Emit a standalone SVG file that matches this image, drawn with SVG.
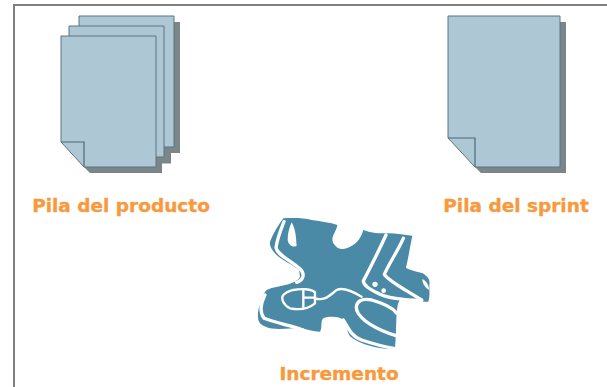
<svg xmlns="http://www.w3.org/2000/svg" width="607" height="387" viewBox="0 0 607 387">
<style>
.sheet{fill:#adc7d4;stroke:#5c7480;stroke-width:1}
.shadow{fill:#7b8689}
.fold{fill:none;stroke:#4f6874;stroke-width:1.2}
.label{font-family:"DejaVu Sans",sans-serif;font-weight:700;font-size:18.5px;fill:#f79a3e;stroke:#f79a3e;stroke-width:.35;text-anchor:middle}
.cut{fill:none;stroke:#fff;stroke-width:10;stroke-linecap:round;stroke-linejoin:round}
.thin{stroke-width:7}
</style>
<rect width="607" height="387" fill="#fff"/>
<path d="M14 387V5H607" fill="none" stroke="#808080" stroke-width="2"/>
<g id="pila-producto">
<path class="shadow" d="M170 22H180V153H171V163.500H162V173H90L84 167H156V36H170Z"/>
<path d="M79 16H174V147H100V36H79Z" class="sheet"/>
<path d="M69 26H164V157H84L69 148Z" class="sheet"/>
<path d="M61 36H156V167H84L61 142Z" class="sheet"/>
<path class="fold" d="M61 142H84V167"/>
<text class="label" x="121" y="212">Pila del producto</text>
</g>
<g id="pila-sprint">
<path class="shadow" d="M560 22H566V173H481L475 167H560Z"/>
<path d="M448 16H560V167H475L448 138Z" class="sheet"/>
<path class="fold" d="M448 138H475V167"/>
<text class="label" x="516" y="212">Pila del sprint</text>
</g>
<g id="incremento">
<g transform="translate(240 205) scale(.3333)">
<path fill="#4a8aa6" d="M130 40C160 38 190 38 215 45C245 50 270 52 292 60C290 80 270 95 280 115C290 132 305 135 320 130C345 120 362 105 370 75C395 85 420 85 445 85C470 85 495 90 517 92C510 125 505 160 498 188C515 198 535 200 548 205C560 212 572 222 568 240C568 260 570 275 565 290C535 292 505 285 480 285C472 295 472 310 470 325C468 360 468 395 465 432C440 432 420 430 400 425C375 418 350 410 332 395C320 385 322 360 310 345C300 335 270 332 250 340C240 350 248 368 240 380C220 380 200 372 180 370C150 370 120 375 90 370C75 365 60 360 55 345C52 325 55 310 60 300C65 280 70 265 80 255C100 245 120 245 135 240C155 235 175 228 180 215C178 200 180 195 170 190C150 175 125 165 110 150C98 138 88 125 90 110C100 85 115 60 130 40Z"/>
<path class="cut" d="M132 50C122 75 112 100 108 128C112 150 150 165 178 190C196 205 192 225 170 232"/>
<path fill="#fff" d="M155 52C168 75 168 100 170 122C160 130 145 120 143 105C143 85 148 68 155 52Z"/>
<path class="cut" d="M438 90C420 130 395 180 370 228C372 245 395 255 420 268C450 282 490 285 545 287"/>
<path class="cut" d="M490 100C475 135 450 170 433 208C445 228 490 250 545 285"/>
<path fill="#fff" d="M547 222C555 225 565 235 568 255C558 250 548 240 547 222Z"/>
<circle cx="405" cy="238" r="8" fill="#fff"/>
<circle cx="431" cy="257" r="7" fill="#fff"/>
<path class="cut" d="M350 315C345 290 365 278 395 285C430 295 460 310 470 325"/>
<path class="cut" d="M350 315C360 345 410 375 468 392"/>
<path class="cut" d="M310 345C325 370 335 395 365 405C395 415 430 425 462 430"/>
<path class="cut thin" d="M225 280C255 290 270 270 290 255C310 245 340 260 365 275"/>
<path class="cut thin" d="M160 255C185 250 215 252 225 262V295C205 312 175 315 150 310C130 300 122 280 130 270C138 262 148 258 160 255Z"/>
<path class="cut thin" d="M190 254V306M192 278H224"/>
<path class="cut" d="M75 270C62 295 58 320 72 340C110 355 150 360 190 375"/>
</g>
<text class="label" x="339" y="380">Incremento</text>
</g>
</svg>
